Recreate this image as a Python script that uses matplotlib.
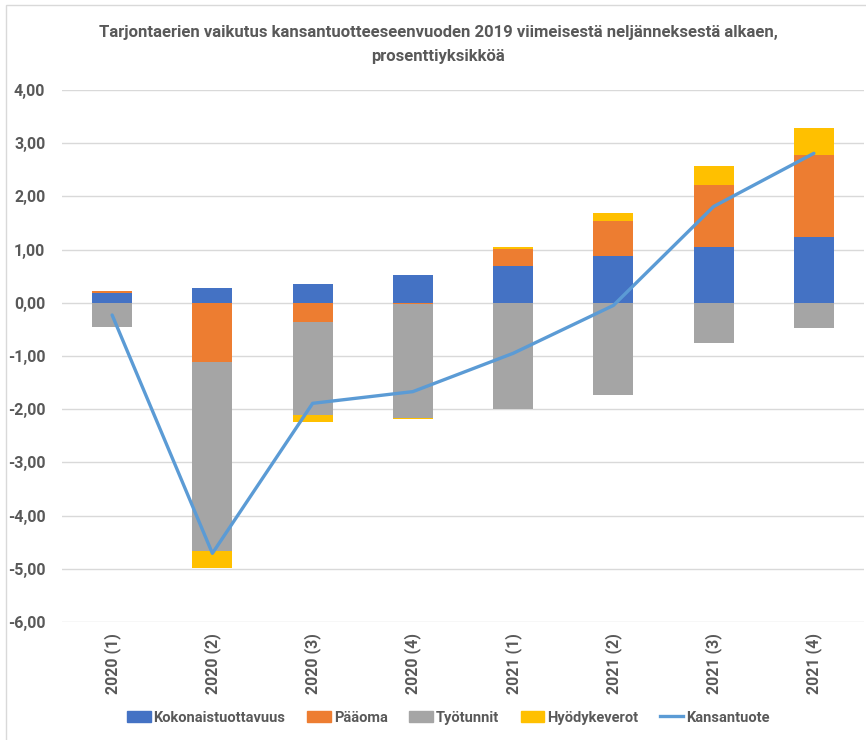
import matplotlib
matplotlib.use("Agg")
import matplotlib.pyplot as plt
import numpy as np
from matplotlib.patches import Rectangle
from matplotlib.lines import Line2D
from matplotlib.ticker import FuncFormatter, MultipleLocator

plt.rcParams['font.family'] = ['Roboto', 'DejaVu Sans']

categories = ["2020 (1)", "2020 (2)", "2020 (3)", "2020 (4)",
              "2021 (1)", "2021 (2)", "2021 (3)", "2021 (4)"]
kokonaistuottavuus = [0.19, 0.27, 0.35, 0.53, 0.69, 0.87, 1.05, 1.24]
paaoma = [0.03, -1.12, -0.36, -0.02, 0.32, 0.67, 1.17, 1.54]
tyotunnit = [-0.45, -3.54, -1.75, -2.14, -1.99, -1.73, -0.76, -0.48]
hyodykeverot = [0.0, -0.32, -0.13, -0.03, 0.03, 0.14, 0.35, 0.51]
kansantuote = [-0.23, -4.71, -1.89, -1.67, -0.95, -0.05, 1.81, 2.81]

series_names = ["Kokonaistuottavuus", "Pääoma", "Työtunnit", "Hyödykeverot"]
series_vals = [kokonaistuottavuus, paaoma, tyotunnit, hyodykeverot]
colors = ["#4472C4", "#ED7D31", "#A5A5A5", "#FFC000"]
line_color = "#5B9BD5"
text_color = "#595959"

fig = plt.figure(figsize=(8.66, 7.40), dpi=100)
ax = fig.add_axes([0.0716, 0.1595, 0.9261, 0.7189])

x = np.arange(len(categories))
pos_base = np.zeros(len(categories))
neg_base = np.zeros(len(categories))
for name, vals, c in zip(series_names, series_vals, colors):
    v = np.array(vals, dtype=float)
    bottoms = np.where(v >= 0, pos_base, neg_base)
    ax.bar(x, v, width=0.4, bottom=bottoms, color=c, label=name, zorder=2)
    pos_base = pos_base + np.where(v >= 0, v, 0)
    neg_base = neg_base + np.where(v < 0, v, 0)

ax.plot(x, kansantuote, color=line_color, linewidth=2.4, zorder=3,
        label="Kansantuote", solid_capstyle='round')

ax.set_xlim(-0.5, len(categories) - 0.5)
ax.set_ylim(-6, 4)
ax.yaxis.set_major_locator(MultipleLocator(1))
ax.yaxis.set_major_formatter(FuncFormatter(lambda v, p: f"{v:.2f}".replace(".", ",")))
ax.grid(axis='y', color="#D9D9D9", linewidth=1.0, zorder=0)
ax.set_axisbelow(True)
for s in ax.spines.values():
    s.set_visible(False)
ax.tick_params(axis='both', length=0, colors=text_color)
ax.set_xticks(x)
ax.set_xticklabels(categories, rotation=90, fontsize=11.5, fontweight='bold',
                   color=text_color)
for lab in ax.get_yticklabels():
    lab.set_fontsize(11.5)
    lab.set_fontweight('bold')
    lab.set_color(text_color)
ax.tick_params(axis='y', pad=12)
ax.tick_params(axis='x', pad=8)

fig.text(0.506, 0.94,
         "Tarjontaerien vaikutus kansantuotteeseenvuoden 2019 viimeisestä neljänneksestä alkaen,\nprosenttiyksikköä",
         ha='center', va='center', fontsize=12.0, fontweight='bold',
         color=text_color, linespacing=1.75)

handles = [Rectangle((0, 0), 1, 1, color=c) for c in colors]
handles.append(Line2D([0], [0], color=line_color, linewidth=2.4))
labels = series_names + ["Kansantuote"]
leg = fig.legend(handles, labels, loc='center', bbox_to_anchor=(0.518, 0.03),
                 ncol=5, frameon=False, fontsize=10.5, handlelength=1.6,
                 handleheight=0.8, handletextpad=0.2, columnspacing=1.5)
for t in leg.get_texts():
    t.set_color(text_color)
    t.set_fontweight('bold')

fig.patches.append(Rectangle((0.007, -0.01), 1.0, 1.0035, transform=fig.transFigure,
                             fill=False, edgecolor="#D9D9D9", linewidth=1.0))

fig.savefig("out.png", dpi=100)
